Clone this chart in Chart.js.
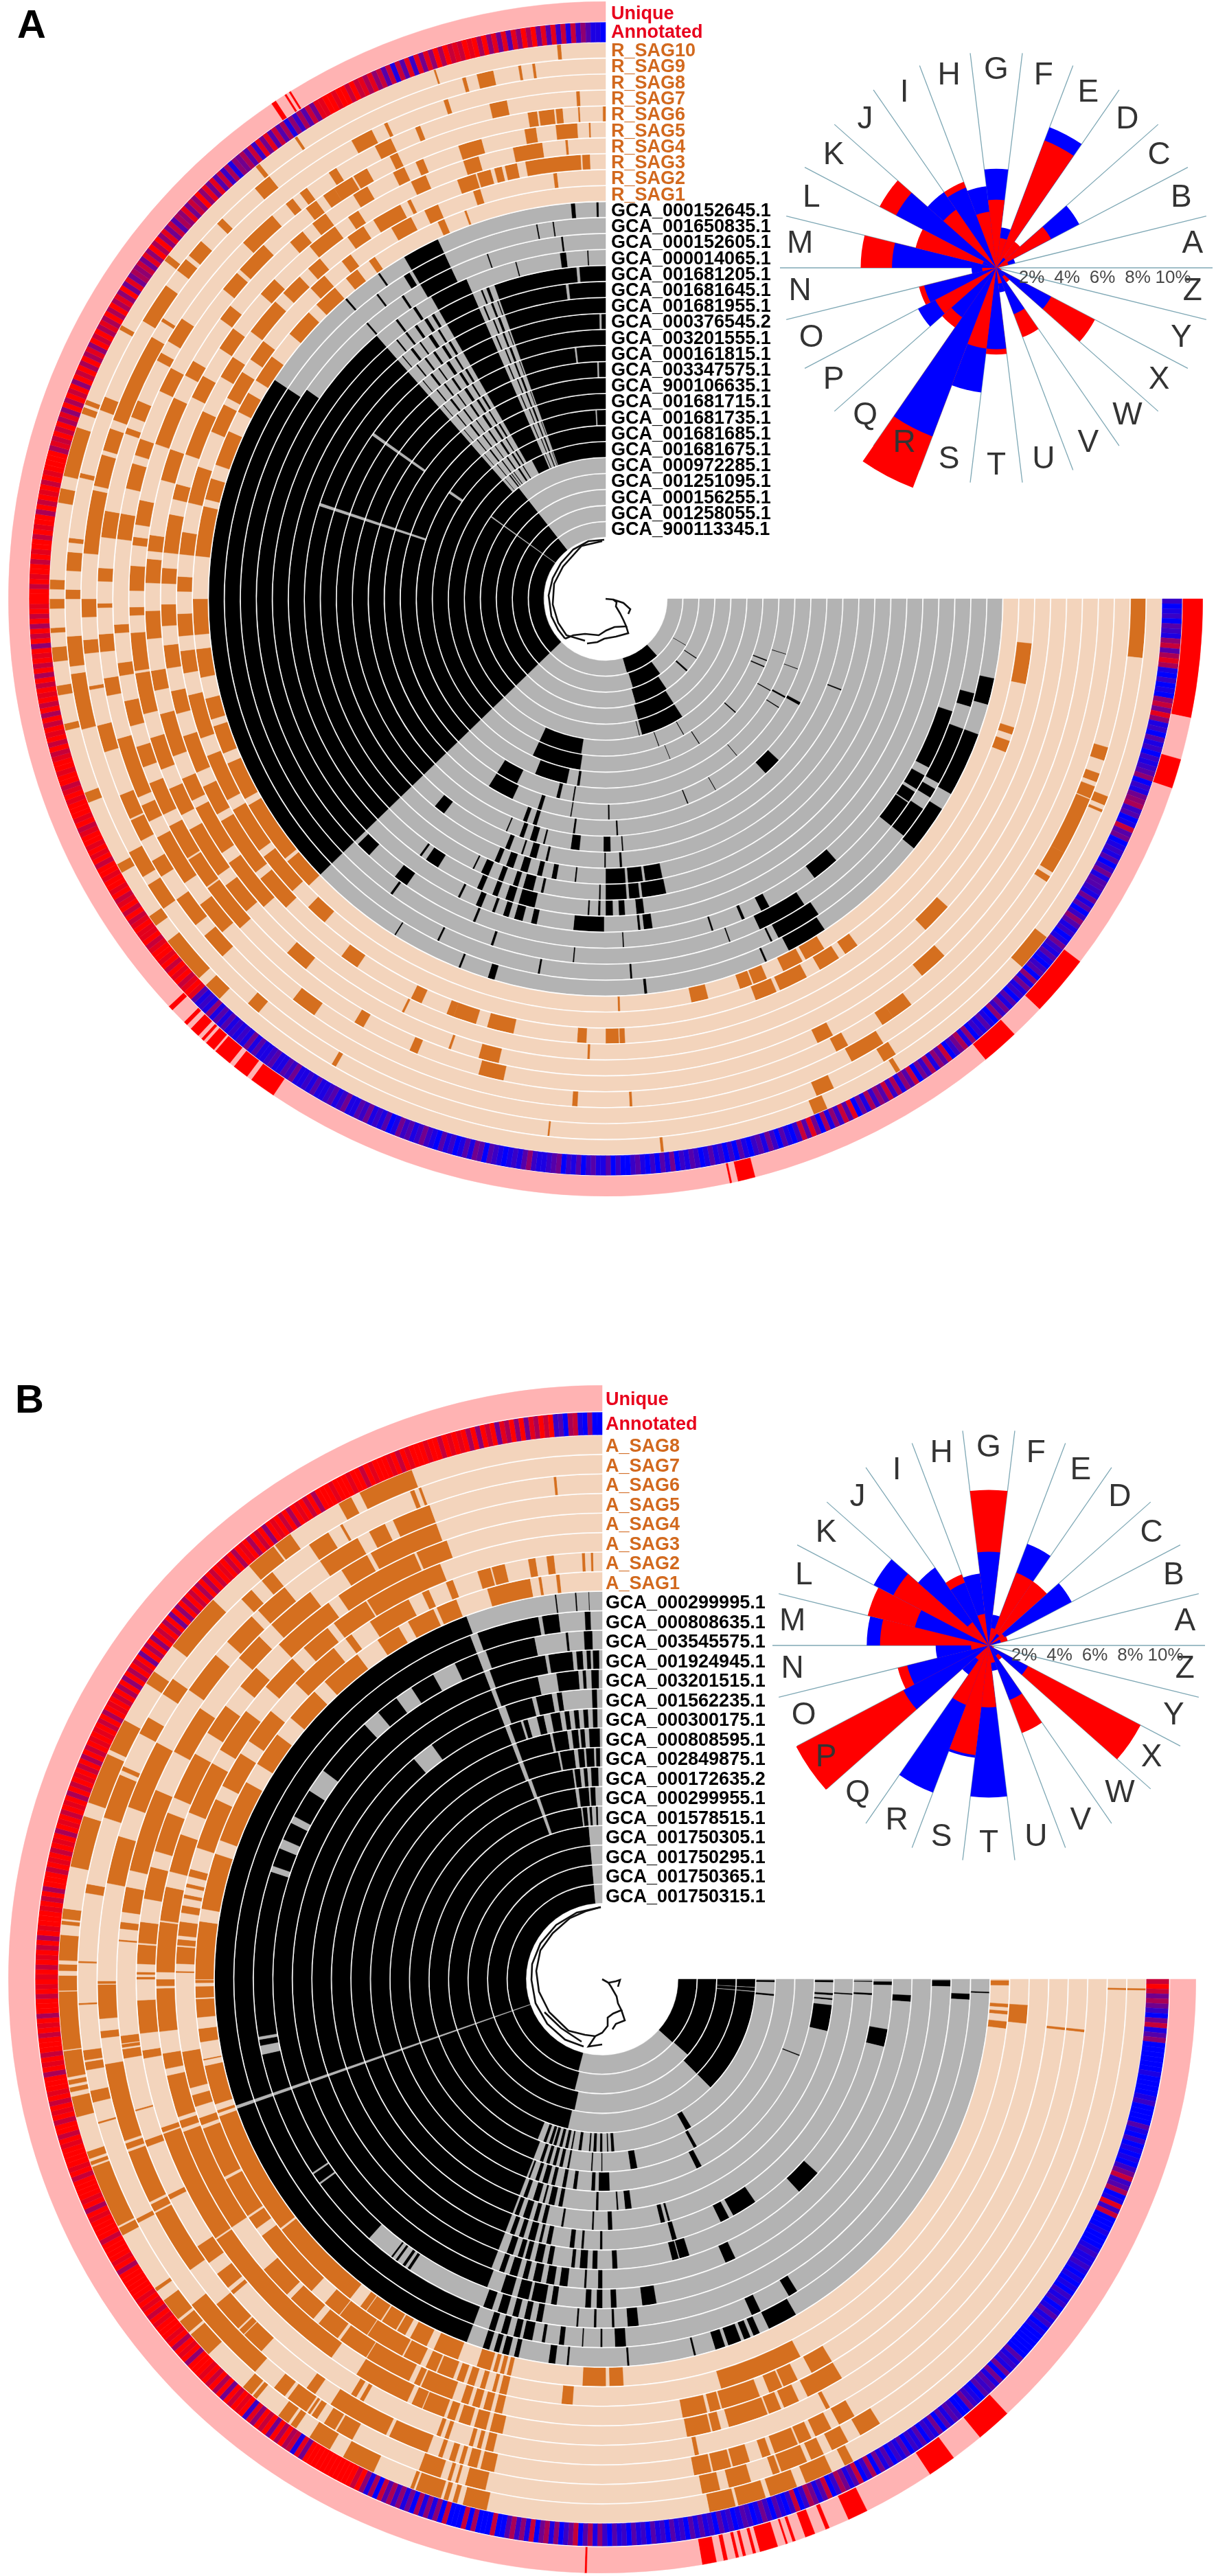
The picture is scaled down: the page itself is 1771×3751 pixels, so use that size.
<!DOCTYPE html>
<html><head><meta charset="utf-8">
<style>
html,body{margin:0;padding:0;background:#fff;width:1771px;height:3751px;overflow:hidden;font-family:"Liberation Sans",Arial,sans-serif}
canvas{position:absolute}
.t{position:absolute;font-weight:bold;font-size:27px;line-height:27px;white-space:nowrap;transform:translateY(-50%);z-index:5;letter-spacing:0}
.p{position:absolute;font-weight:bold;font-size:58px;line-height:58px;color:#000}
</style>
<script src="https://cdn.jsdelivr.net/npm/chart.js@4"></script>
</head><body>
<script>
/* ---------- labels ---------- */
const A_sagNames=["R_SAG10","R_SAG9","R_SAG8","R_SAG7","R_SAG6","R_SAG5","R_SAG4","R_SAG3","R_SAG2","R_SAG1"];
const A_gcaNames=["GCA_000152645.1","GCA_001650835.1","GCA_000152605.1","GCA_000014065.1","GCA_001681205.1","GCA_001681645.1","GCA_001681955.1","GCA_000376545.2","GCA_003201555.1","GCA_000161815.1","GCA_003347575.1","GCA_900106635.1","GCA_001681715.1","GCA_001681735.1","GCA_001681685.1","GCA_001681675.1","GCA_000972285.1","GCA_001251095.1","GCA_000156255.1","GCA_001258055.1","GCA_900113345.1"];
const B_sagNames=["A_SAG8","A_SAG7","A_SAG6","A_SAG5","A_SAG4","A_SAG3","A_SAG2","A_SAG1"];
const B_gcaNames=["GCA_000299995.1","GCA_000808635.1","GCA_003545575.1","GCA_001924945.1","GCA_003201515.1","GCA_001562235.1","GCA_000300175.1","GCA_000808595.1","GCA_002849875.1","GCA_000172635.2","GCA_000299955.1","GCA_001578515.1","GCA_001750305.1","GCA_001750295.1","GCA_001750365.1","GCA_001750315.1"];
const roseLetters=["A","B","C","D","E","F","G","H","I","J","K","L","M","N","O","P","Q","R","S","T","U","V","W","X","Y","Z"];
const roseTicks=[2,4,6,8,10];

/* ---------- rose values, % per category A..Z ---------- */
const roseA_red=[.15,.7,3.5,1.8,7.7,1.7,3.85,3.2,5.2,4.0,7.45,4.7,7.67,.8,4.5,3.9,4.1,13.3,4.6,4.9,.9,4.2,1.0,6.3,.3,.2];
const roseA_blue=[.1,1.1,5.3,.7,8.5,2.3,5.6,4.65,4.85,5.2,6.4,.8,5.9,1.4,4.2,5.0,3.4,10.2,7.1,4.6,1.4,2.8,.6,3.5,.2,.1];
const roseB_red=[.1,1.1,1.0,4.4,4.4,1.0,8.8,1.8,4.3,1.6,6.1,7.05,6.15,1.0,5.3,12.3,1.0,3.6,6.25,3.5,1.0,5.3,1.0,9.7,.3,.2];
const roseB_blue=[.1,.7,5.3,.8,6.15,1.75,5.3,4.1,3.8,5.35,7.35,4.3,6.9,3.0,4.75,5.45,2.0,8.9,6.4,8.6,1.45,3.3,.7,2.5,.2,.1];

/* ---------- ring values: presence intervals along the 270-unit gene-cluster axis ---------- */
const A_unique=[[0,11.5],[15.6,18.5],[37.4,43.4],[46.8,50.5],[75.5,77.2],[77.8,78],[123.8,126.4],[126.9,128.5],[129,130.8],[131,132],[132.3,132.6],[133,134],[134.5,134.9],[136.5,137],[236,236.5],[237.5,237.7],[238,238.2]];
const A_annot="79879678"+"426313"+"897989"+"42514"+"879687978"+"764978"+"5437698265"+"9878697586"+"67858697468798578689"+"76948587968574986879"+"48357926483759264837"+"26473859162748395162"+"79869758679869797868"+"97687958697986799796"+"88679687956788746878"+"98769658689786987578"+"67589687857688578678"+"86878857688678868587"+"878686848786"+"1012010201001201101202012010"+"010020101001201000101200100120"+"201020302010203020104020302010"+"002010020100201003020102010000"+"312020314030204020303140203130"+"303140515342514030415263415240"+"415162738453627151626384736251"+"100100202131426282617151403021"+"201030415161403051617282746889";
const A_S10=[[37.5,41.5],[58,58.5],[66.5,68],[84,84.3],[134,136],[137,142],[144,145.2],[150.5,151.5],[158.5,159.6],[166.3,167],[170,171],[173.5,175],[176.5,177],[179,180],[181,182],[190,191.5],[192.8,198],[199.5,200.2],[200.5,201],[209,209.5],[217.5,218.2],[231,231.5],[236,236.3],[252,252.2],[265,265.4]];
const A_S9=[[0,6.3],[21.5,22.5],[23,23.3],[57.5,59],[65,67],[96,96.2],[120,120.5],[130,131.5],[145,148],[149,152],[166,172],[172.8,176],[180,181],[183,185],[186,186.5],[193,193.5],[200.5,202],[211,215.5],[217.5,219],[219.5,221.5],[224,224.8],[229.5,231.5],[254.6,255],[256.2,258],[260.7,261],[262.2,262.5]];
const A_S8=[[16.5,18],[19.5,20.5],[21,22.4],[22.5,29],[28.8,31.5],[32,32.7],[58,62],[137,140],[141.5,145],[148,150],[152.5,155],[155.2,158],[163,166],[170,170.4],[174,175.5],[178,180],[185,192],[192.5,196],[196.5,199],[200,210],[212,212.4],[241,243.5],[245,245.4],[252,252.5]];
const A_S7=[[53,55.5],[55.5,57],[61.5,63],[87,87.3],[93.2,93.8],[125,128],[139,143],[146,152],[154,156],[157,164],[169,171],[174,176],[179,179.5],[182,183.5],[187,190],[199,199.7],[201,203],[208,209],[210.5,213.5],[224.5,229],[231,232],[233,234],[237,238],[243,245],[248,248.6],[256.8,258.8],[266.7,267.1]];
const A_S6=[[46.5,50],[62.5,64.5],[102,105],[112.5,113.5],[119.5,120.7],[138,144],[144.2,148],[148.2,152.5],[154,158],[160,162.5],[165,168],[171,172.5],[176,177],[187,190],[193,196],[197,199],[205,208],[219,221.5],[222,226],[232.5,234],[235,236.5],[236.5,239],[239.2,241],[244,245],[260.9,262],[262.2,264],[264.2,265],[266.8,267],[269.7,270]];
const A_S5=[[103,105.5],[109,109.3],[129,132],[139,143],[144.5,151],[153,156.5],[159,163],[166,171],[171.3,175.9],[178,179],[181,184],[186.5,187.5],[189,192],[199,205],[208,210],[216,218],[228.5,230.5],[232,234],[238,240],[243.5,245],[246.5,247.5],[252,254.9],[260.2,261.6],[264,266.6],[268,268.2]];
const A_S4=[[42,46],[92,92.3],[116,116.3],[138,145],[146.5,153],[154,157],[160,165.5],[168.5,171],[175,178.5],[182,185],[186,188],[195,199],[206,209],[213,216],[221.5,224],[230,234],[236,237.5],[245,247],[252,254],[258.4,262.1],[265,265.3]];
const A_S3=[[87.5,88.2],[88.3,90],[92.5,93.7],[102,105.5],[107,110],[110,111],[114.5,116],[124,126.5],[136,141],[142,150],[151,155],[157,162],[165,168],[171,174],[176.5,179.3],[182,184],[186,191],[193,195],[199,205],[210,213],[217,222],[223.5,226.5],[228,230],[234.5,237],[238.5,242.5],[243.5,244],[250.5,253],[253.2,255],[255.5,256.5],[256.9,258.5],[259.6,266.8],[267,268]];
const A_S2=[[6,11.5],[17.5,18.5],[19.4,21],[54,56],[57,60],[62,66],[66.5,69.5],[131,134],[137,143],[144,150.5],[152,158.5],[161,167],[170,173],[175,178],[181,183],[186,189],[193,198],[203,207],[208,212],[214,217],[226.5,229],[232,233.5],[240,243],[245,247],[252,253],[263,263.5]];
const A_S1=[[58,61],[61.5,64.5],[67,69],[69.2,71],[75.6,78],[88,88.3],[136,140.5],[141,150],[151,156.5],[158,162],[163,166],[169,173],[175,180],[186,193],[194,197],[199,204],[207,210],[212,216],[220,224],[225.5,229],[231,233],[235,236],[246,247],[250,250.3]];
const A_stripes1=[[231,231.3],[233,233.4],[235,235.5],[237,237.6],[238.5,239],[248,248.3],[249,249.5]];
const A_stripes2=[[230,230.2],[232,232.5],[234,234.3],[236,236.7],[238,238.4],[247.3,247.6],[248.8,249.2],[250,250.2]];
const A_G1=[[11.6,15.5],[20,29.5],[32,39],[56.5,62.5],[66,66.3],[84,84.4],[106.3,107.3],[111.5,111.8],[122,122.2],[136,213.5],[229,229.3],[235,235.3],[239.5,245],[265,265.6],[268.7,269]];
const A_G2=[[14.4,16.5],[20,29],[30,31.5],[33.5,38.5],[56,63],[64,64.3],[86,86.3],[100,100.3],[116,116.3],[136,213.5],[233,233.3],[238,239],[239.5,245],[259.5,259.7],[262,262.2]];
const A_G3=[[18,27.6],[29,31.5],[32,33.8],[34,38.5],[57,65],[70,70.2],[95,95.2],[108,108.4],[125.8,126.2],[136,215],[229,229.3],[236,236.4],[239.5,245],[251,251.2],[263,263.3]];
const A_G4=[[48.6,53.2],[62,63.5],[66.5,67],[72,72.3],[87,87.2],[112,112.4],[124.8,127.2],[132.7,135.3],[136,229],[233,233.4],[236.5,237],[240,246.5],[255,255.2],[262.5,263.5],[267,267.2]];
const A_G5=[...A_stripes1,[81.9,83.4],[84,84.4],[90.3,95.6],[102,103],[104.5,106],[107,108],[109.5,110],[112,113],[116,116.4],[136,229],[240,246.5],[250.5,265],[265.5,270]];
const A_G6=[...A_stripes2,[83,84.4],[86.5,87.6],[88.7,90],[91,91.4],[93,93.3],[103,106],[107,108.5],[110,111],[113,114],[122,124.6],[125.6,126],[136,229],[240,246.5],[250.5,262.8],[263.3,270]];
const A_G7=[...A_stripes1,[78.4,83],[83.5,85.5],[86,90],[91,91.3],[102,102.5],[104,106],[107,108],[110,111],[113,114.5],[116,116.3],[136,198],[198.6,229],[240,246.5],[250.5,270]];
const A_G8=[...A_stripes2,[78.5,82],[82.5,85.5],[86,90],[96,96.3],[100,101],[103,104],[106,107.5],[109,110.5],[112,113],[136,198],[198.6,215],[215.6,229],[240,246.5],[250.5,268.8],[269.2,270]];
const A_G9=[...A_stripes1,[86.5,87],[90,90.3],[102.5,103],[105,106.5],[108,108.4],[111,112],[127,129.5],[136,198],[198.6,215],[215.6,229],[240,246.5],[250.5,270]];
const A_G10=[...A_stripes2,[21,21.3],[86,86.3],[88.9,90.5],[96,98],[104,104.4],[106,107.5],[109,110],[113,113.3],[136,198],[198.6,215],[215.6,229],[240,246.5],[250.5,263],[263.4,270]];
const A_G11=[...A_stripes1,[43,47.5],[87,87.4],[97.5,98],[107,108],[109.5,110.5],[136,198],[198.6,215],[215.6,229],[240,246.5],[250.5,268],[268.4,270]];
const A_G12=[...A_stripes2,[28,28.8],[60,60.2],[68,68.3],[89,89.4],[99,99.3],[107,108],[115,122],[136,198],[198.6,229],[240,246.5],[250.5,270]];
const A_G13=[...A_stripes1,[20,20.2],[28.5,29],[32,32.3],[50,50.2],[99,99.4],[103,104],[115.7,122],[136,198],[198.6,229],[240,246.5],[250.5,270]];
const A_G14=[...A_stripes2,[17,17.2],[29,29.3],[98,98.8],[102,112],[136,214],[214.8,229],[240,246.5],[250.5,267],[267.4,270]];
const A_G15=[...A_stripes1,[20.8,21.2],[23,23.4],[41,41.4],[57,57.3],[68,68.2],[98.5,115],[136,229],[240,246.5],[250.5,270]];
const A_G16=[...A_stripes2,[60,60.3],[70,70.3],[99,115],[136,229],[233,233.3],[242,246.7],[250.5,270]];
const A_G17=[[57,75],[76,76.3],[136,215.5],[216,232]];
const A_G18=[[57,75],[136,215.5],[216,232]];
const A_G19=[[33,33.5],[41,42],[56,74],[136,215.5],[216,232]];
const A_G20=[[30,30.3],[54,73],[136,215.5],[216,232]];
const A_G21=[[48,74],[136,215.5],[216,232]];

const B_unique=[[47,50.5],[53.7,56.5],[63.5,65.5],[67.5,67.9],[69,70],[71,71.3],[71.8,72],[72.8,74.6],[75,75.3],[76,76.3],[76.7,77],[77.8,78.2],[78.9,80.3],[91.5,91.7]];
const B_annot="202535"+"79528649"+"9999989999879999"+"6897989897"+"5276398172"+"9998999878"+"8789898978"+"79868798999999"+"6878595867698759"+"97686958796879687968"+"59379268537926853792"+"79869758976897869786"+"86978697869786978697"+"48369257948359284736"+"99299939299929"+"4848395847362938"+"40200000000000"+"5182303050204170"+"102050302010004010301000102010"+"1000000301000020000103010000201000010200"+"201020100030102000201030002010"+"102010203010001020300020102010"+"301020103020102030201010203010"+"203040302050304020305040302030"+"302010203010302040102030102030"+"001000100201000102010001002010"+"10304020513040513020"+"7693289499";
const B_S8=[[1,1.2],[62.5,63.5],[65,68],[69,72],[72.5,75.5],[75.8,78.6],[102.3,104.9],[105.5,106],[106.5,107],[107.3,110.1],[110.3,110.7],[114.9,118.5],[120.1,122.6],[124.3,125],[125.3,126.6],[129.5,130],[130.2,131.4],[136.4,139.2],[139.5,141],[141.3,143.8],[145,145.4],[151.9,152.8],[153,159.8],[160,160.4],[160.7,161.5],[165.3,167.5],[168,168.5],[168.8,169.3],[169.6,172.4],[172.5,178.7],[178.8,180.4],[180.9,181.6],[182,184.7],[185.8,186.2],[186.4,187.5],[192,197.5],[199,204.5],[205,208.5],[213,214.5],[217.8,224.3],[229.5,232.8],[233,235],[241,242.5],[243.5,249.5]];
const B_S7=[[1,1.2],[58,60.5],[62,64],[65,66.5],[67,70],[70.2,71],[73.5,76],[77,79],[102.9,105.2],[106,106.3],[106.8,107.2],[108,110.5],[118.5,120.5],[120.7,122.1],[123,123.7],[123.9,124.2],[124.4,126.9],[127.3,128.8],[131.5,141.6],[152.3,152.8],[164,164.2],[166.4,167.7],[170,170.9],[171.1,172.2],[177.2,177.4],[181.8,182],[189.5,190.5],[198,203],[203.5,204],[208,210],[213,215],[226.5,228],[229.5,231],[236,238.5],[240,240.3],[248.5,249],[249.5,249.8]];
const B_S6=[[60,62],[63,65],[65.5,67],[67.2,70],[70.5,71.5],[73,75],[75.2,77.3],[77.5,79.5],[102.4,104],[104.4,105.5],[106,106.5],[107,107.7],[108.5,109],[110.3,115],[115.4,122.6],[124.7,125.9],[132.5,135.2],[135.3,136],[136.2,139.9],[144.8,152.4],[152.6,153.5],[153.8,160],[160.3,161],[161.3,170.3],[173.3,174.1],[175.5,179.4],[179.5,179.8],[191,196.5],[200,208],[215,220],[222,226],[227,231],[236,241],[242.5,244.5],[245.5,250],[264.5,264.8]];
const B_S5=[[6,6.3],[62,62.5],[78.5,79],[103,104],[104.5,105],[105.5,106],[108.5,109],[109.5,110],[119.5,120],[120.5,121.2],[139.5,140],[140.5,142.6],[144.2,146.6],[153,153.6],[159.8,160.6],[164.2,164.4],[170.6,171.7],[171.9,172.3],[172.4,173.3],[184.5,184.7],[186,186.8],[188,191],[193,203],[208,214],[221.5,225],[227,233],[237.5,241],[241.5,250]];
const B_S4=[[6,6.3],[59,63.8],[65,67],[67.4,69],[69.2,74.2],[75.2,76.3],[76.5,79.5],[102.4,104],[104.5,106],[106.5,108],[108.5,109.5],[109.9,112.7],[112.8,114.2],[114.8,121.9],[125.6,146],[146.2,160.6],[160.8,161.4],[170.2,171.2],[173.3,177.4],[180,180.3],[180.6,180.9],[181.9,184.3],[184.5,187.1],[190,194],[196,201],[203,209],[212,216],[219,222],[226,234],[235.5,246.2],[246.5,250.5]];
const B_S3=[[59,62],[64,66],[66.2,68],[69.3,74.4],[74.6,76],[76.4,79.6],[103,104],[104.5,105.5],[106,107],[107.5,108.5],[109.7,114],[114.2,115],[115.7,121.9],[122,126],[126.4,129.5],[130.4,134.3],[135,139.4],[146.2,160],[160.5,161.5],[162,167.5],[168.4,170.4],[173.25,178.83],[179.13,180],[180.93,187.4],[187.6,192],[194,199],[202,209],[211,217],[221,226],[228,232],[233,238],[238.2,248.7]];
const B_S2=[[3.5,6],[62.3,73.8],[94,95.5],[103,104],[104.5,105],[106,106.7],[107.5,108.5],[109,110],[110.5,112.8],[113,114.5],[115.3,117.8],[118,123.4],[123.5,128],[128.1,130.6],[133,143],[144.2,146],[146.3,152],[152.4,159.5],[160,161],[162.6,164.2],[165.2,170.2],[180.9,181.1],[182.1,184.4],[184.6,185.4],[185.9,187.8],[189,190],[191,191.5],[192.5,193],[194,195],[198,205],[207,212],[214,219],[224,231],[233,234],[237,243],[245,246],[248.5,249.5],[253,254.8],[255,256.8],[260,261],[262.5,263.5],[267.3,267.7],[268.5,268.8]];
const B_S1=[[0.2,0.9],[3.5,4],[4.5,5],[6,7],[87,89],[89.5,92.8],[103,103.6],[104,104.6],[105,105.6],[106,108],[110.8,114.5],[115.6,118.2],[119,120.3],[120.5,122.8],[123,125.4],[125.5,126.5],[128.3,142],[142.3,160.3],[160.8,161.2],[162.1,167.7],[168.5,168.7],[171.1,173],[174.6,177.2],[177.4,179],[179.5,179.9],[180,188.2],[190,198],[200,209],[212,217],[220,225],[227,233],[236.5,240],[241.5,245.5],[246,249],[253.6,259.8],[261,261.4],[263.5,264]];
const B_G1=[[1.9,2.1],[60,64.5],[66,67],[67.5,68.5],[69,71],[71.5,73],[76,76.3],[86,86.3],[95,95.3],[97,98],[102.5,103.2],[104,105],[105.5,106.3],[107,108],[110.5,160.5],[161,249.5],[263,263.2],[266,266.2],[268,268.1]];
const B_G2=[[2.3,3.2],[58,59.5],[64.5,66],[86.3,88],[90,90.3],[93,93.2],[96,96.8],[99,99.5],[101,102.5],[103,104],[105,106],[107,108],[110.5,160.5],[161,249],[250.2,260],[260.6,263.2],[267.3,268.2]];
const B_G3=[[0.2,1.2],[84,85.8],[88,88.4],[91,91.4],[94,94.3],[100,101],[102,103],[104,105],[106,107.5],[108.5,110],[123.5,124],[124.5,125],[126,126.4],[127,127.3],[132,144],[144.3,146],[146.3,160.5],[161,167.5],[169,170],[170.5,198],[199,202.1],[203.7,206.7],[207.9,212.8],[216.8,227],[230,233.8],[236.8,241],[245,249],[250.5,258.8],[264,264.4],[267,268.4]];
const B_G4=[[80.5,83],[87.5,88.5],[90,91],[92,93],[98,99],[100,102.5],[103,105],[106,108],[110.5,160.5],[161,249],[250,260],[260.6,264.8],[265.5,266.6],[267.3,268],[268.4,269.5]];
const B_G5=[[3,4.2],[64.5,66.5],[90,90.8],[93,93.4],[96.5,98],[99,100.5],[101.5,103],[104,105],[106,107.5],[108.5,109.5],[111,160.5],[161,249],[249.8,258],[261.5,265.6],[266.4,267],[268,269.4]];
const B_G6=[[0.5,1.2],[10,13.5],[42,47.2],[72.5,74.5],[74.7,76],[87,88],[91,92],[93,94.5],[95.5,96.2],[100,101],[102,103.5],[104.5,105.5],[106,107],[108,109.3],[111,160.5],[161,229.5],[234,249],[250.5,256],[256.8,260],[261,262],[268,269]];
const B_G7=[[0.4,.6],[3,3.4],[55.5,61],[62,64],[74,75],[90,90.5],[94,94.5],[96,97],[101,102],[103,103.6],[104.5,106],[107,108],[109,110],[111,160.5],[161,249],[250,252.5],[253,254],[256,257.5],[259,261],[262,263],[264,265],[266,267],[268,269]];
const B_G8=[[3.3,3.6],[74.3,74.8],[75.5,76.5],[87.7,88.7],[92,92.4],[99,99.5],[103,104],[105,106],[107,108.5],[109.5,110.5],[111,160.5],[161,249],[250,258],[258.6,262],[263,264.5],[265,266],[267,269.5]];
const B_G9=[[0.3,0.8],[3.5,4],[4.8,5.2],[6.5,13],[82.7,84.3],[86,86.4],[91,91.6],[100,101],[102,103.5],[104.5,105],[106,107.5],[109,110],[111,160.5],[161,249],[250,259],[259.5,263],[264,265.5],[266,268],[268.5,269.5]];
const B_G10=[[21,21.3],[62,63.5],[88,91],[92,93],[97,98],[100,101],[103,104],[105,106.5],[107.5,108.5],[110,110.5],[111,160.5],[161,249.5],[250.5,262],[262.5,264],[265,266],[267,269]];
const B_G11=[[60.5,61.5],[79.5,81.5],[90,90.3],[93,93.4],[100,100.6],[102,103],[104,105],[106,107],[108,109],[111,160.5],[161,250],[251,262],[263,266],[266.5,268]];
const B_G12=[[0.4,1],[5,5.6],[59,61],[86,87],[88,88.4],[90,90.8],[92,93],[94,94.5],[97,98],[100,100.5],[101.5,102.5],[103.5,104.5],[105.5,106.5],[107,108],[109,110],[112,160.5],[161,250],[251,263],[263.5,265],[265.8,266.6],[268,268.6]];
const B_G13=[[0,3],[3.2,4.5],[4.8,45],[103,160.5],[161,265]];
const B_G14=[[0,3],[3.2,4.5],[4.8,45],[102,160.5],[161,265]];
const B_G15=[[0,41.5],[104,160.5],[161,265]];
const B_G16=[[0,42],[104.6,160.5],[161,265]];

/* ---------- dendrogram branch lines (tree drawn in the hole) ---------- */
const A_treeCore=[[0,0],[11,-1],[16,-5],[15,-11],[21,-21],[26,-31],[30,-40],[13,-41],[1,-46],[-10,-53],[-30,-51],[-47,-53],[-59,-58]];
const A_treeBranch=[[11,-1],[26,-6],[36,-15],[33,-22]];
const A_treeLower=[[30,-40],[33,-50],[15,-55],[-2,-58],[-12,-63],[-27,-65]];
const A_treeOuter=[[-2,86],[-25,84],[-47,72],[-65,52],[-77,30],[-83,5],[-79,-25],[-69,-45],[-59,-58]];
const A_treeInner=[[-5,84],[-35,77],[-62,47],[-75,22],[-77,-8],[-69,-35],[-57,-53],[-30,-61]];
const B_treeCore=[[0,0],[9,-5],[13,-11],[21,-25],[23,-35],[28,-45],[16,-50],[8,-56],[8,-68],[0,-78],[-10,-83],[-25,-81],[-49,-75],[-77,-48],[-92,-18],[-96,12],[-90,42],[-72,67],[-47,89],[-24,99],[-2,105]];
const B_treeOuter=[[-2,105],[-37,97],[-67,79],[-90,52],[-102,22],[-103,-1],[-97,-35],[-80,-65],[-54,-88],[-27,-98]];
const B_treeMid=[[-30,-91],[-60,-71],[-84,-48]];
const B_treeBranch=[[10,-5],[20,-3],[26,-1],[23,-11]];
const B_treeLower=[[28,-45],[33,-60],[20,-65],[15,-73]];
const B_treeTip=[[0,-95],[-20,-98],[-10,-83]];

/* ---------- styling ---------- */
const C={pink:"#ffb3b3",red:"#ff0000",beige:"#f3d4bc",brown:"#d56f1f",gray:"#b3b3b3",black:"#000000",teal:"#7fa8b5",ink:"#333333",tick:"#484848",sag:"#d2691e",lab:"#e8001c"};
Chart.defaults.animation=false;

function intervalsToSegments(list,base,fg){
  const s=[...list].sort((a,b)=>a[0]-b[0]);const data=[],colors=[];let c=0;
  for(const [a0,b] of s){const a=Math.max(a0,c);if(b<=a)continue;
    if(a>c){data.push(a-c);colors.push(base);}
    data.push(b-a);colors.push(fg);c=b;}
  if(c<270){data.push(270-c);colors.push(base);}
  return {data,colors};
}
function annotSegments(str){
  const w=270/str.length,data=[],colors=[];
  for(const ch of str){const f=(+ch)/9;data.push(w);
    colors.push(`rgb(${Math.round(255*(1-f))},0,${Math.round(255*f)})`);}
  return {data,colors};
}
function ring(seg,weight){return {data:seg.data,backgroundColor:seg.colors,borderColor:seg.colors,borderWidth:0.5,weight:weight};}
function gap(w){return {data:[270],backgroundColor:["#ffffff"],borderWidth:0,weight:w};}

function makeRings(el,R,cut,parts){
  const ds=[];
  ds.push(ring(intervalsToSegments(parts.unique,C.pink,C.red),parts.uw));ds.push(gap(parts.g1));
  ds.push(ring(annotSegments(parts.annot),parts.aw));ds.push(gap(parts.g2));
  parts.sag.forEach(r=>{ds.push(ring(intervalsToSegments(r,C.beige,C.brown),parts.unit-1.8));ds.push(gap(1.8));});
  parts.gca.forEach(r=>{ds.push(ring(intervalsToSegments(r,C.gray,C.black),parts.unit2-1.8));ds.push(gap(1.8));});
  new Chart(el,{type:"doughnut",data:{datasets:ds},options:{responsive:false,devicePixelRatio:1,rotation:90,circumference:270,cutout:cut,events:[],layout:{padding:0},plugins:{legend:{display:false},tooltip:{enabled:false}}}});
}
function addCanvas(l,t,w,h,z){const c=document.createElement("canvas");c.width=w;c.height=h;c.style.cssText=`left:${l}px;top:${t}px;width:${w}px;height:${h}px;z-index:${z}`;document.body.appendChild(c);return c;}

function makeRose(el,red,blue){
  const labels=[...roseLetters].reverse(),r=[...red].reverse(),b=[...blue].reverse();
  const front=labels.map((_,i)=>Math.min(r[i],b[i])),back=labels.map((_,i)=>Math.max(r[i],b[i]));
  const frontC=labels.map((_,i)=>r[i]<=b[i]?"#ff0000":"#0000ff"),backC=labels.map((_,i)=>r[i]<=b[i]?"#0000ff":"#ff0000");
  const rosePlugin={id:"roseDecor",
    beforeDatasetsDraw(ch){const s=ch.scales.r,x=ch.ctx;x.save();x.strokeStyle=C.teal;x.lineWidth=1.3;
      labels.forEach((_,i)=>{const p=s.getPointPosition(i,315);x.beginPath();x.moveTo(s.xCenter,s.yCenter);x.lineTo(p.x,p.y);x.stroke();});x.restore();},
    afterDatasetsDraw(ch){const s=ch.scales.r,x=ch.ctx;x.save();x.textAlign="center";x.textBaseline="middle";
      x.fillStyle=C.ink;x.font='46px "Liberation Sans",Arial,sans-serif';
      labels.forEach((l,i)=>{const p=s.getPointPosition(i+0.5,288);x.fillText(l,p.x,p.y);});
      x.fillStyle=C.tick;x.font='26px "Liberation Sans",Arial,sans-serif';
      roseTicks.forEach(v=>{x.fillText(v+"%",s.xCenter+s.getDistanceFromCenterForValue(v),s.yCenter+15);});
      x.restore();}};
  new Chart(el,{type:"polarArea",data:{labels,datasets:[{data:front,backgroundColor:frontC,borderWidth:0},{data:back,backgroundColor:backC,borderWidth:0}]},
    options:{responsive:false,devicePixelRatio:1,events:[],layout:{padding:0},plugins:{legend:{display:false},tooltip:{enabled:false}},
      scales:{r:{min:0,max:350/25.75,startAngle:90,ticks:{display:false},grid:{display:false},angleLines:{display:false},pointLabels:{display:false}}}},plugins:[rosePlugin]});
}
function makeTree(el,lines){
  const pts=a=>a.map(p=>({x:p[0],y:p[1]}));
  new Chart(el,{type:"scatter",data:{datasets:lines.map(l=>({data:pts(l),showLine:true,borderColor:"#111",borderWidth:2.6,pointRadius:0,tension:0}))},
    options:{responsive:false,devicePixelRatio:1,events:[],layout:{padding:0},plugins:{legend:{display:false},tooltip:{enabled:false}},
      scales:{x:{type:"linear",min:-115,max:115,display:false},y:{type:"linear",min:-115,max:115,display:false}}}});
}
function text(s,x,y,color){const d=document.createElement("div");d.className="t";d.textContent=s;d.style.left=x+"px";d.style.top=y+"px";d.style.color=color;document.body.appendChild(d);}
function panel(s,x,y){const d=document.createElement("div");d.className="p";d.textContent=s;d.style.left=x+"px";d.style.top=y+"px";document.body.appendChild(d);}

/* ---------- panel A ---------- */
makeRings(addCanvas(12,2,1740,1740,1),870,88.5,{unique:A_unique,annot:A_annot,uw:29,g1:1,aw:29,g2:1,unit:23.2,unit2:23.31,
  sag:[A_S10,A_S9,A_S8,A_S7,A_S6,A_S5,A_S4,A_S3,A_S2,A_S1],
  gca:[A_G1,A_G2,A_G3,A_G4,A_G5,A_G6,A_G7,A_G8,A_G9,A_G10,A_G11,A_G12,A_G13,A_G14,A_G15,A_G16,A_G17,A_G18,A_G19,A_G20,A_G21]});
makeTree(addCanvas(882-115,872-115,230,230,2),[A_treeCore,A_treeBranch,A_treeLower,A_treeOuter,A_treeInner]);
makeRose(addCanvas(1451-350,390-350,700,700,3),roseA_red,roseA_blue);
text("Unique",890,19,C.lab);text("Annotated",890,46,C.lab);
A_sagNames.forEach((s,i)=>text(s,890,73+i*23.3,C.sag));
A_gcaNames.forEach((s,i)=>text(s,890,306+i*23.2,"#000"));
panel("A",25,6);

/* ---------- panel B ---------- */
makeRings(addCanvas(12,2017,1730,1730,1),865,109.2,{unique:B_unique,annot:B_annot,uw:37.5,g1:1.5,aw:33,g2:1,unit:28.45,unit2:28.45,
  sag:[B_S8,B_S7,B_S6,B_S5,B_S4,B_S3,B_S2,B_S1],
  gca:[B_G1,B_G2,B_G3,B_G4,B_G5,B_G6,B_G7,B_G8,B_G9,B_G10,B_G11,B_G12,B_G13,B_G14,B_G15,B_G16]});
makeTree(addCanvas(877-115,2882-115,230,230,2),[B_treeCore,B_treeOuter,B_treeMid,B_treeBranch,B_treeLower,B_treeTip]);
makeRose(addCanvas(1440-350,2396-350,700,700,3),roseB_red,roseB_blue);
text("Unique",882,2037,C.lab);text("Annotated",882,2073,C.lab);
B_sagNames.forEach((s,i)=>text(s,882,2105+i*28.57,C.sag));
B_gcaNames.forEach((s,i)=>text(s,882,2333+i*28.53,"#000"));
panel("B",22,2008);
</script>
</body></html>
